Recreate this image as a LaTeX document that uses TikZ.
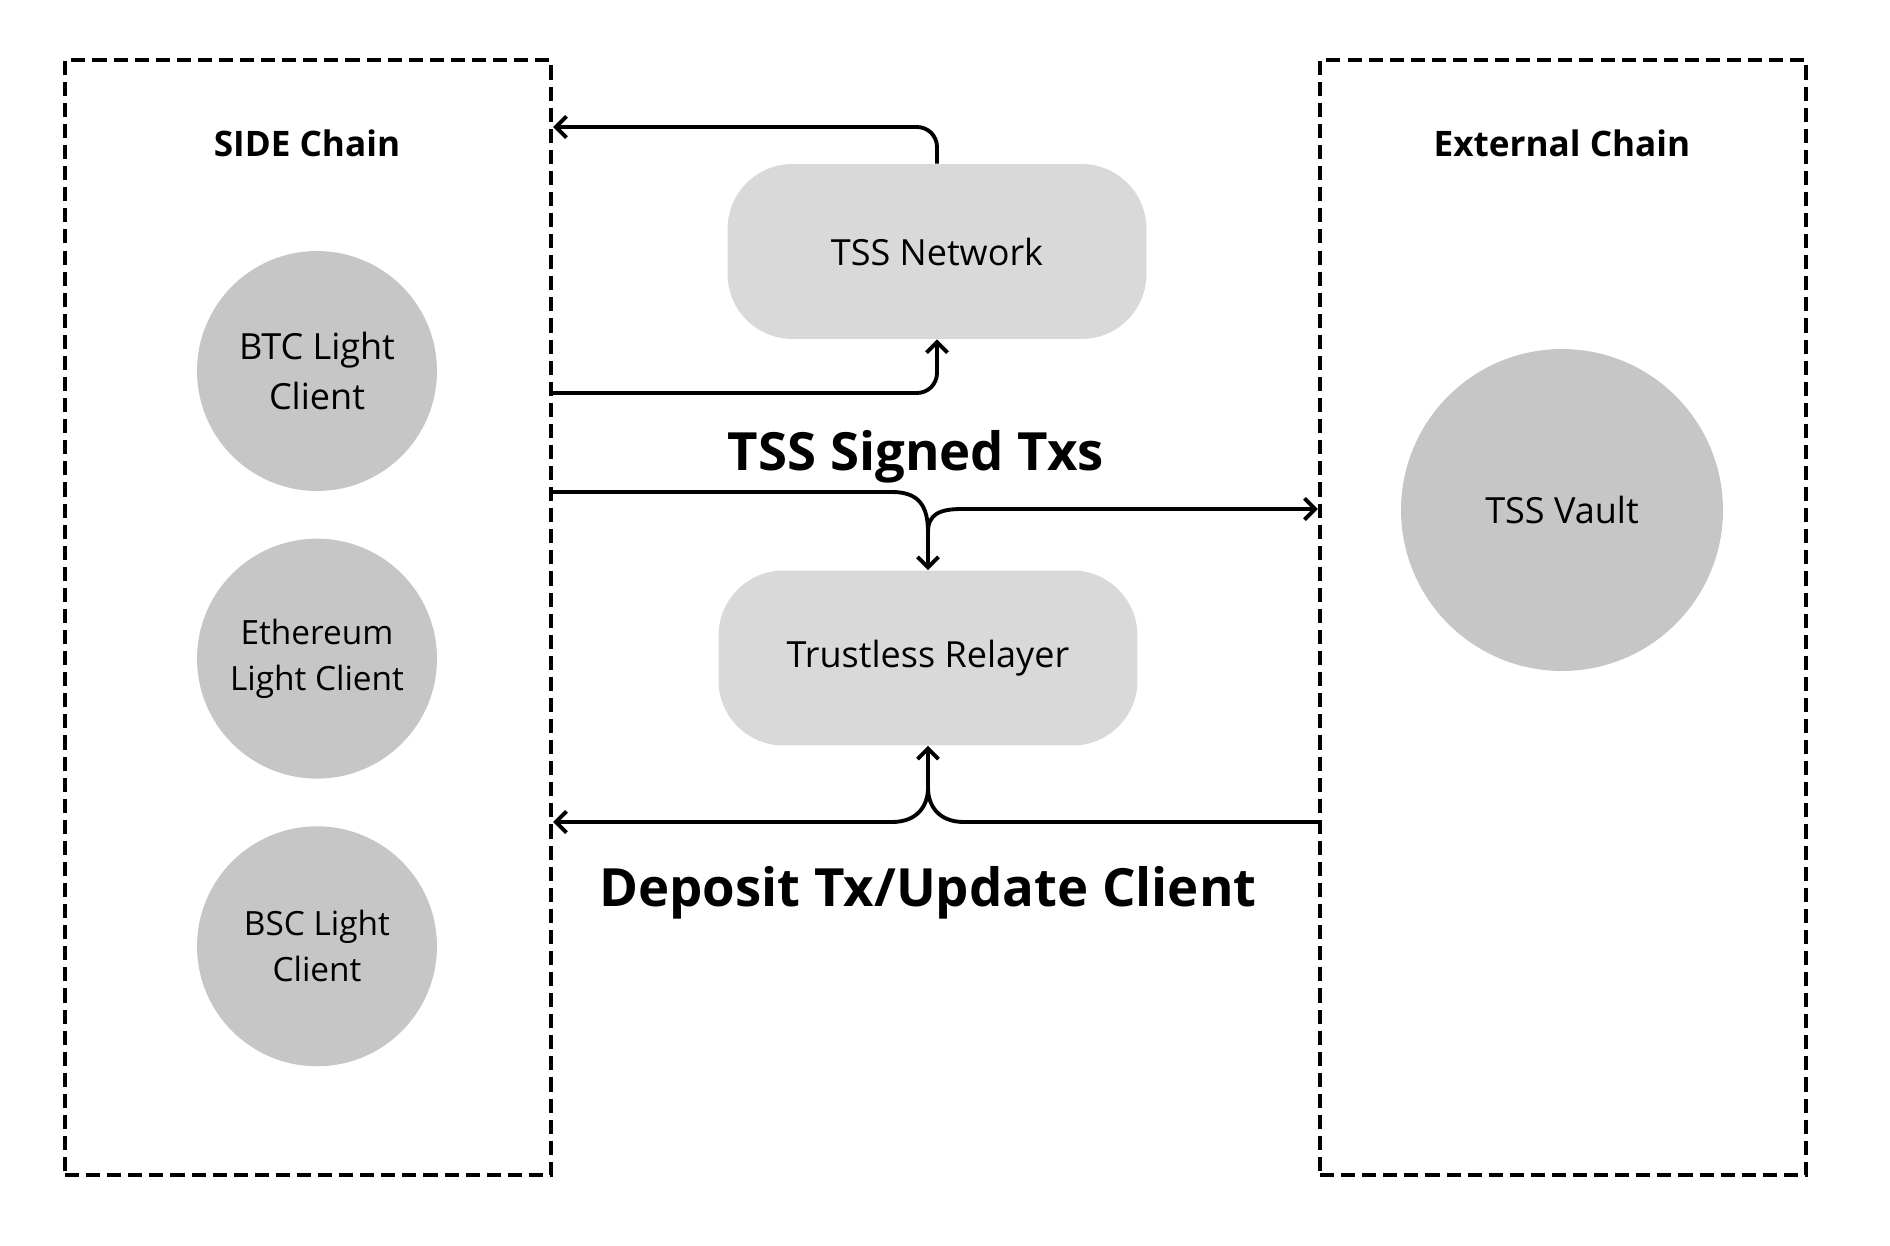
\documentclass[tikz,border=0pt]{standalone}
\usepackage{fontspec}
\setmainfont{Open Sans}
\usetikzlibrary{positioning,arrows.meta}

\begin{document}
\begin{tikzpicture}[x=0.02cm, y=-0.02cm, node distance=0.94cm,
    >={Straight Barb[length=6pt,width=12pt,line width=2.2pt]},
    chain/.style={draw, line width=2.6pt, dash pattern=on 8pt off 4pt, minimum width=9.72cm, minimum height=22.3cm},
    client/.style={circle, fill=gray!45, minimum size=4.8cm, align=center, inner sep=0pt, font=\fontsize{19}{22}\selectfont},
    proc/.style={rectangle, rounded corners=1.3cm, fill=gray!30, minimum width=8.38cm, minimum height=3.5cm, font=\fontsize{20.5}{24}\selectfont},
    title/.style={font=\fontsize{20}{24}\selectfont\bfseries},
    flow/.style={font=\fontsize{30}{36}\selectfont\bfseries},
    link/.style={->, line width=2.2pt}]
    \useasboundingbox (0,0) rectangle (1890,1246);

    % chains
    \node[chain] (side) at (308,617.5) {};
    \node[chain] (ext) at (1563,617.5) {};
    \node[title] (sidetitle) at (307,143) {SIDE Chain};
    \node[title] (exttitle) at (1562,143) {External Chain};

    % light clients
    \node[client, font=\fontsize{20.5}{24}\selectfont] (btc) at (317,371) {BTC Light\\[4pt]Client};
    \node[client] (eth) [below=of btc] {Ethereum\\[4pt]Light Client};
    \node[client] (bsc) [below=of eth] {BSC Light\\[4pt]Client};
    \node[client, minimum size=6.44cm, font=\fontsize{20.5}{24}\selectfont] (vault) at (1562,510) {TSS Vault};

    % middle
    \node[proc] (tss) at (937,251.5) {TSS Network};
    \node[proc] (relay) at (928,658) {Trustless Relayer};
    \node[flow] (signed) at (916,457) {TSS Signed Txs};
    \node[flow] (deposit) at (928,893) {Deposit Tx/Update Client};

    \coordinate (fork) at (relay.north |- 0,532);
    \coordinate (join) at (relay.south |- 0,788);

    \draw[link, rounded corners=0.4cm] (tss.north) |- (side.east |- 0,127);
    \draw[link, rounded corners=0.4cm] (side.east |- 0,393) -| (tss.south);

    \draw[link] (side.east |- 0,492) -- (892,492) .. controls (918,492) and (fork |- 0,505) .. (fork) -- (relay.north);
    \draw[link] (fork) .. controls (fork |- 0,514) and (940,509) .. (962,509) -- (ext.west |- 0,509);

    \draw[link] (ext.west |- 0,822) -- (964,822) .. controls (938,822) and (join |- 0,805) .. (join) -- (relay.south);
    \draw[link] (join) .. controls (join |- 0,805) and (918,822) .. (892,822) -- (side.east |- 0,822);
\end{tikzpicture}
\end{document}
